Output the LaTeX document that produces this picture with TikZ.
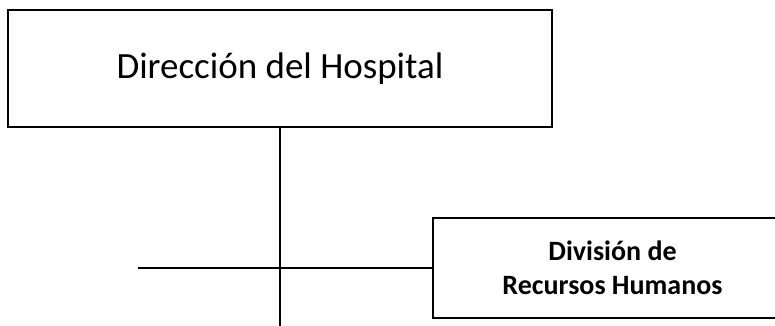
\documentclass[tikz,border=0pt]{standalone}
\usepackage{fontspec}
\setmainfont{Carlito}
\begin{document}
\begin{tikzpicture}[
    x=1pt, y=-1pt,
    line width=2.5pt,
    unit/.style = {draw, rectangle, inner sep=0pt, align=center},
    topunit/.style = {unit, minimum width=544pt, minimum height=117pt,
        font=\fontsize{37}{44}\selectfont},
    subunit/.style = {unit, minimum width=359pt, minimum height=100pt,
        font=\bfseries\fontsize{28}{34}\selectfont}
     ]
  \useasboundingbox (0,0) rectangle (775,326);
  \node[topunit] (dir) at (280,68.5) {Dirección del Hospital};
  \node[subunit] (rrhh) at (612.5,268) {División de\\Recursos Humanos};
  \coordinate (trunk) at (280,326);
  \coordinate (branch) at (138,268);
  \draw (dir.south) -- (trunk);
  \draw (branch) -- (rrhh.west);
\end{tikzpicture}
\end{document}
